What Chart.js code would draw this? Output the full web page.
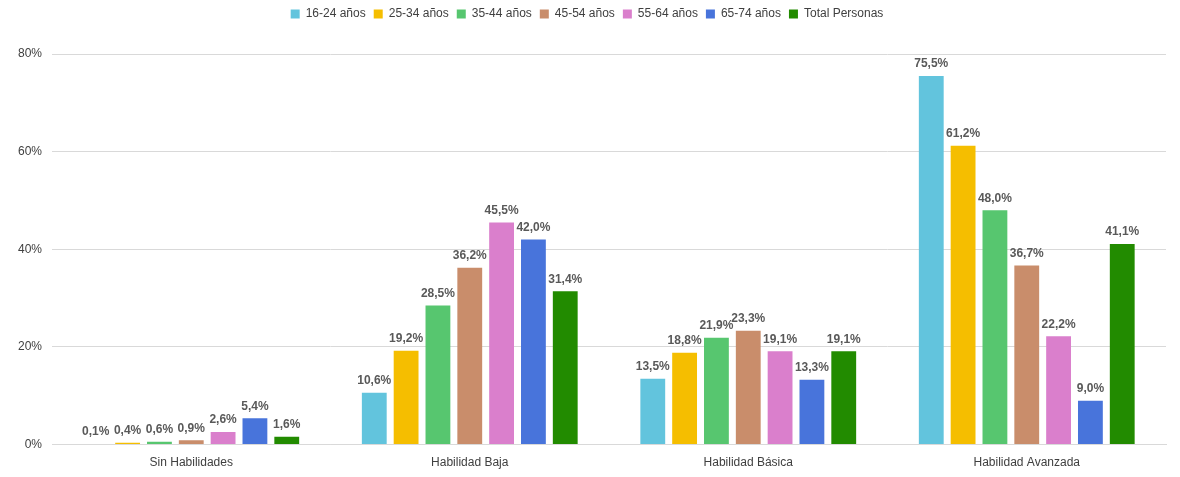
<!DOCTYPE html>
<html><head><meta charset="utf-8">
<script src="https://cdn.jsdelivr.net/npm/chart.js"></script>
<style>body{margin:0;background:#fff}</style>
</head><body><canvas id="c" width="1180" height="477"></canvas>
<script>
const categories = ['Sin Habilidades', 'Habilidad Baja', 'Habilidad Básica', 'Habilidad Avanzada'];
const seriesNames = ['16-24 años', '25-34 años', '35-44 años', '45-54 años', '55-64 años', '65-74 años', 'Total Personas'];
const colors = ['#62C4DD', '#F5BE00', '#57C66F', '#C98D6B', '#DA7FCC', '#4874DB', '#228B00'];
const s1624 = [0.1, 10.6, 13.5, 75.5];
const s2534 = [0.4, 19.2, 18.8, 61.2];
const s3544 = [0.6, 28.5, 21.9, 48.0];
const s4554 = [0.9, 36.2, 23.3, 36.7];
const s5564 = [2.6, 45.5, 19.1, 22.2];
const s6574 = [5.4, 42.0, 13.3, 9.0];
const sTotal = [1.6, 31.4, 19.1, 41.1];
const allSeries = [s1624, s2534, s3544, s4554, s5564, s6574, sTotal];

// labels on top of each bar
const labelPlugin = {
	id: 'labels',
	afterDatasetsDraw(chart) {
		const ctx = chart.ctx;
		ctx.save();
		ctx.font = 'bold 12px "Liberation Sans", Arial';
		ctx.fillStyle = '#595959';
		ctx.textAlign = 'center';
		ctx.textBaseline = 'bottom';
		chart.data.datasets.forEach((ds, i) => {
			chart.getDatasetMeta(i).data.forEach((bar, j) => {
				ctx.fillText(ds.data[j].toFixed(1).replace('.', ',') + '%', bar.x, bar.y - 6);
			});
		});
		ctx.restore();
	}
};

new Chart(document.getElementById('c'), {
	type: 'bar',
	data: {
		labels: categories,
		datasets: allSeries.map((d, i) => ({
			label: seriesNames[i],
			data: d,
			backgroundColor: colors[i],
			categoryPercentage: 0.8,
			barPercentage: 0.78
		}))
	},
	options: {
		responsive: false,
		animation: false,
		layout: { padding: { left: 8, right: 14, top: 0, bottom: 4 } },
		scales: {
			x: {
				grid: { display: false },
				border: { color: '#d9d9d9' },
				ticks: { color: '#404040', font: { size: 12, family: '"Liberation Sans", Arial' } }
			},
			y: {
				min: 0, max: 80,
				ticks: { stepSize: 20, color: '#404040', callback: v => v + '%', padding: 10, font: { size: 12, family: '"Liberation Sans", Arial' } },
				grid: { color: '#d9d9d9', drawTicks: false },
				border: { display: false }
			}
		},
		plugins: {
			legend: {
				position: 'top',
				labels: { boxWidth: 9, boxHeight: 9, color: '#404040', padding: 8, font: { size: 12, family: '"Liberation Sans", Arial' } }
			},
			tooltip: { enabled: false }
		}
	},
	plugins: [labelPlugin, {
		id: 'legendPad',
		beforeInit(chart) {
			const fit = chart.legend.fit;
			chart.legend.fit = function () { fit.call(this); this.height += 24; };
		}
	}]
});
</script>
</body></html>
